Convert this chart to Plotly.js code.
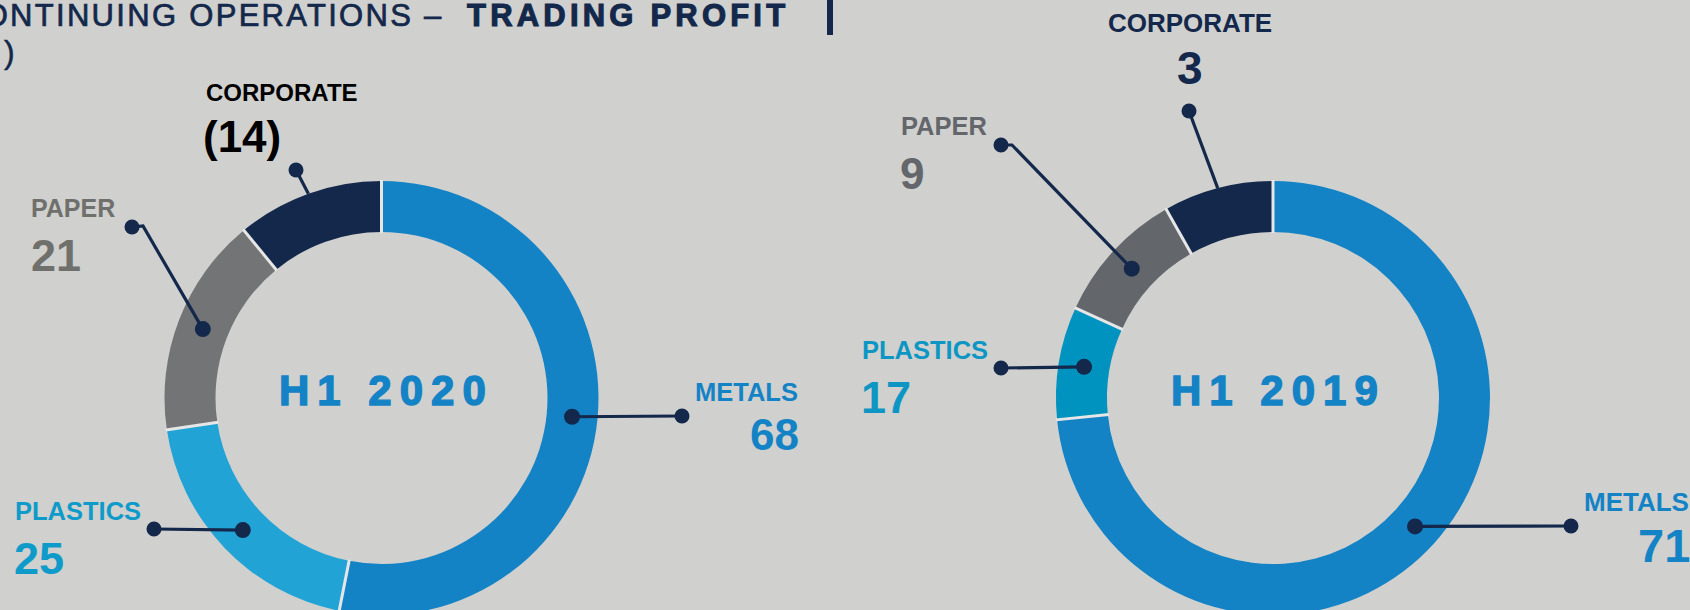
<!DOCTYPE html>
<html><head><meta charset="utf-8">
<script src="https://cdn.plot.ly/plotly-3.0.1.min.js"></script>
<style>
html,body{margin:0;padding:0;background:#D0D0CE;overflow:hidden;width:1690px;height:610px;}
#wrap{width:1690px;height:610px;overflow:hidden;position:relative;}
</style></head>
<body><div id="wrap"><div id="chart"></div></div>
<script>
// ---------- DATA ----------
const segments = ['METALS', 'PLASTICS', 'PAPER', 'CORPORATE'];
const periods = ['H1 2020', 'H1 2019'];
const labels2020 = ['68', '25', '21', '(14)'];      // reported trading profit
const slices2020 = [68, 25, 21, 14];                 // ring segment sizes (absolute values)
const labels2019 = ['71', '17', '9', '3'];
const slices2019 = [73.4, 8.4, 10.0, 8.2];           // ring segment sizes as drawn in the picture
const titleMain = 'CONTINUING OPERATIONS – ';
const titleBold = 'TRADING PROFIT';
const unitTail = ')';

// ---------- LAYOUT / STYLE ----------
const W = 1690, H = 620;
const px = x => x / W, py = y => 1 - y / H;
const FONT = 'Liberation Sans, Arial, sans-serif';
const NAVY = '#13284B';
const BLUE = '#1383C6';

const charts = [
  { slices: slices2020, labels: labels2020, period: periods[0],
    cx: 381.5, cy: 398, r: 217, rin: 166,
    ring: [BLUE, '#21A3D5', '#737476', NAVY],
    text: [BLUE, '#0E9BC9', '#6F706C', '#000000'],
    lead: [
      { anchor: [682, 416] },
      { anchor: [154, 529] },
      { anchor: [132, 227], stub: [143, 226] },
      { anchor: [296, 170], outer: true }
    ],
    lab: [
      { n: [799, 391.5, 25.5, 'right'], v: [800, 434.5, 44, 'right'] },
      { n: [14, 511, 25.5, 'left'], v: [13, 558, 45, 'left'] },
      { n: [30, 207.5, 25, 'left'], v: [30, 255, 45, 'left'] },
      { n: [205, 92, 24, 'left'], v: [202, 136, 44, 'left'] }
    ],
    hx: 386, hy: 390 },
  { slices: slices2019, labels: labels2019, period: periods[1],
    cx: 1273, cy: 398, r: 217, rin: 166,
    ring: [BLUE, '#0093BF', '#63666A', NAVY],
    text: [BLUE, '#0D96C3', '#63666A', NAVY],
    lead: [
      { anchor: [1571, 526] },
      { anchor: [1001, 368] },
      { anchor: [1001, 145], stub: [1012, 145] },
      { anchor: [1189, 111], outer: true }
    ],
    lab: [
      { n: [1690, 502.5, 26, 'right'], v: [1691, 545, 47, 'right'] },
      { n: [861, 350, 25.5, 'left'], v: [860, 397.5, 45, 'left'] },
      { n: [900, 126, 25.5, 'left'], v: [899, 173.5, 44, 'left'] },
      { n: [1190, 23.5, 26, 'center'], v: [1190, 67.5, 46, 'center'] }
    ],
    hx: 1278, hy: 390 }
];

function angles(vals) {
  const tot = vals.reduce((a, b) => a + b, 0);
  let acc = 0;
  return vals.map(v => { const a0 = acc / tot * 360; acc += v; const a1 = acc / tot * 360; return { a0, a1, mid: (a0 + a1) / 2 }; });
}
function pt(c, deg, rr) {
  const t = deg * Math.PI / 180;
  return [c.cx + rr * Math.sin(t), c.cy - rr * Math.cos(t)];
}

const traces = [], shapes = [], annotations = [], styled = [];

function addText(text, x, y, size, color, anchor, opts) {
  opts = opts || {};
  annotations.push({
    xref: 'paper', yref: 'paper', x: px(x), y: py(y), xanchor: anchor, yanchor: 'middle',
    align: anchor === 'center' ? 'center' : anchor, showarrow: false, borderpad: 0,
    text: opts.bold === false ? text : '<b>' + text + '</b>',
    font: { family: FONT, size: size, color: color }
  });
  styled.push(opts.css || null);
}
function dot(x, y, r) {
  shapes.push({ type: 'circle', xref: 'paper', yref: 'paper', layer: 'above',
    x0: px(x - r), x1: px(x + r), y0: py(y + r), y1: py(y - r),
    fillcolor: NAVY, line: { width: 0 } });
}
function path(points, color, width) {
  const d = points.map((p, i) => (i ? 'L' : 'M') + px(p[0]).toFixed(6) + ',' + py(p[1]).toFixed(6)).join(' ');
  shapes.push({ type: 'path', xref: 'paper', yref: 'paper', layer: 'above', path: d,
    line: { color: color, width: width } });
}

charts.forEach(c => {
  traces.push({
    type: 'pie', values: c.slices, labels: segments, sort: false, direction: 'clockwise', rotation: 0,
    hole: c.rin / c.r, marker: { colors: c.ring, line: { width: 0 } },
    textinfo: 'none', hoverinfo: 'skip', showlegend: false,
    domain: { x: [px(c.cx - c.r), px(c.cx + c.r)], y: [py(c.cy + c.r), py(c.cy - c.r)] }
  });
  const ang = angles(c.slices);
  // light separators between segments
  ang.forEach(a => path([pt(c, a.a0, c.rin - 1), pt(c, a.a0, c.r + 1)], '#E6E6E6', 3));
  // leader lines
  ang.forEach((a, i) => {
    const L = c.lead[i];
    const ringPt = L.outer ? pt(c, a.mid, c.r) : pt(c, a.mid, (c.r + c.rin) / 2);
    const pts = [L.anchor];
    if (L.stub) pts.push(L.stub);
    pts.push(ringPt);
    path(pts, NAVY, 3.2);
    dot(L.anchor[0], L.anchor[1], 7.5);
    if (!L.outer) dot(ringPt[0], ringPt[1], 8);
  });
  // labels
  c.lab.forEach((l, i) => {
    addText(segments[i], l.n[0], l.n[1], l.n[2], c.text[i], l.n[3]);
    addText(c.labels[i], l.v[0], l.v[1], l.v[2], c.text[i], l.v[3]);
  });
  addText(c.period, c.hx, c.hy, 42, BLUE, 'center',
    { css: { letterSpacing: '8px', stroke: BLUE, strokeWidth: '1.4px' } });
});

// title
addText(titleMain, -42, 16, 31, NAVY, 'left', { bold: false, css: { letterSpacing: '2.3px', stroke: NAVY, strokeWidth: '0.7px' } });
addText(titleBold, 466, 16, 31, NAVY, 'left', { css: { letterSpacing: '4.2px', stroke: NAVY, strokeWidth: '1.1px' } });
addText(unitTail, 3, 52, 32, NAVY, 'left', { bold: false, css: { stroke: NAVY, strokeWidth: '0.5px' } });
shapes.push({ type: 'rect', xref: 'paper', yref: 'paper', layer: 'above',
  x0: px(827), x1: px(833), y0: py(35), y1: py(-5), fillcolor: NAVY, line: { width: 0 } });

const layout = {
  width: W, height: H, margin: { l: 0, r: 0, t: 0, b: 0 },
  paper_bgcolor: '#D0D0CE', plot_bgcolor: '#D0D0CE',
  showlegend: false, shapes: shapes, annotations: annotations,
  font: { family: FONT }
};

Plotly.newPlot('chart', traces, layout, { staticPlot: true, displayModeBar: false }).then(gd => {
  const nodes = gd.querySelectorAll('.annotation');
  nodes.forEach(n => {
    const idx = +n.getAttribute('data-index');
    const css = styled[idx];
    if (!css) return;
    const t = n.querySelector('.annotation-text');
    if (!t) return;
    Object.keys(css).forEach(k => { t.style[k] = css[k]; });
    t.querySelectorAll('tspan').forEach(s => Object.keys(css).forEach(k => { s.style[k] = css[k]; }));
  });
});
</script>
</body></html>
